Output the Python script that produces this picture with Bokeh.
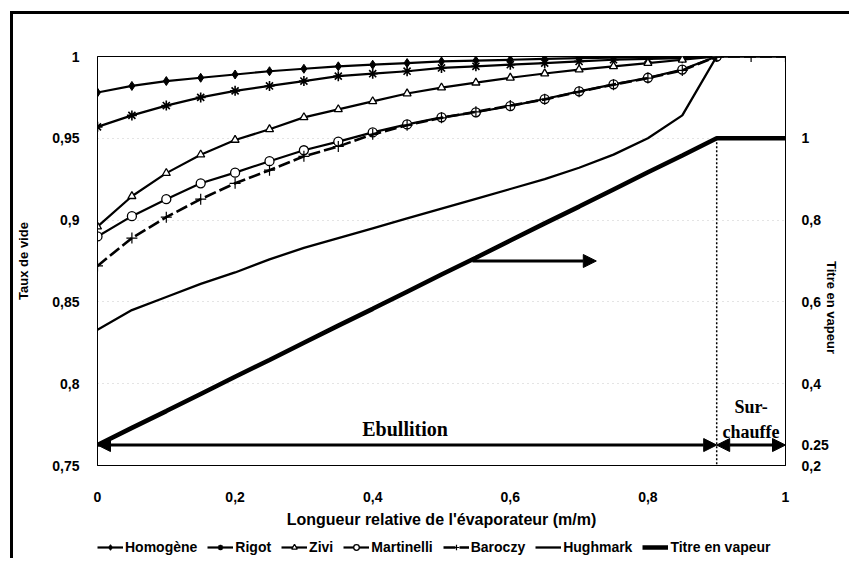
import math
from bokeh.plotting import figure
from bokeh.layouts import column
from bokeh.models import (Range1d, LinearAxis, FixedTicker, Legend, LegendItem,
                          Arrow, NormalHead, Label)
from bokeh.embed import file_html
from bokeh.resources import INLINE

# ---------------- data ----------------
x_pts = [0.0, 0.05, 0.1, 0.15, 0.2, 0.25, 0.3, 0.35, 0.4, 0.45, 0.5,
         0.55, 0.6, 0.65, 0.7, 0.75, 0.8, 0.85, 0.9]
x_full = x_pts + [0.95, 1.0]

homogene = [0.978, 0.982, 0.985, 0.987, 0.989, 0.991, 0.9925, 0.994, 0.995, 0.996,
            0.997, 0.9975, 0.998, 0.9985, 0.999, 0.9993, 0.9996, 0.9998, 1.0]
rigot = [0.957, 0.964, 0.970, 0.975, 0.979, 0.982, 0.985, 0.988, 0.9895, 0.991,
         0.993, 0.994, 0.995, 0.996, 0.997, 0.998, 0.9985, 0.999, 1.0]
zivi = [0.896, 0.9146, 0.9287, 0.940, 0.949, 0.9555, 0.9628, 0.9677, 0.9726, 0.9774,
        0.981, 0.984, 0.987, 0.9896, 0.992, 0.994, 0.996, 0.998, 1.0]
martinelli = [0.890, 0.9024, 0.9128, 0.9225, 0.929, 0.936, 0.9427, 0.948, 0.9536, 0.9585,
              0.9628, 0.9659, 0.9697, 0.974, 0.9787, 0.983, 0.987, 0.992, 1.0]
baroczy = [0.872, 0.889, 0.9018, 0.9128, 0.9225, 0.9305, 0.939, 0.945, 0.9524, 0.958,
           0.9625, 0.9662, 0.970, 0.9738, 0.9785, 0.9828, 0.9868, 0.9915, 1.0, 1.0, 1.0]
hughmark = [0.833, 0.845, 0.853, 0.861, 0.868, 0.876, 0.883, 0.889, 0.895, 0.901,
            0.907, 0.913, 0.919, 0.925, 0.932, 0.940, 0.950, 0.964, 1.0, 1.0, 1.0]
titre = [0.25, 0.292, 0.333, 0.375, 0.417, 0.458, 0.5, 0.542, 0.583, 0.625,
         0.667, 0.708, 0.75, 0.792, 0.833, 0.875, 0.917, 0.958, 1.0, 1.0, 1.0]

left_ticks = [0.75, 0.8, 0.85, 0.9, 0.95, 1.0]
left_labels = ["0,75", "0,8", "0,85", "0,9", "0,95", "1"]
right_ticks = [0.2, 0.25, 0.4, 0.6, 0.8, 1.0]
right_labels = ["0,2", "0.25", "0,4", "0,6", "0,8", "1"]
x_ticks = [0.0, 0.2, 0.4, 0.6, 0.8, 1.0]
x_labels = ["0", "0,2", "0,4", "0,6", "0,8", "1"]

boiling_end = 0.9          # end of the boiling zone (m/m)
zone_level = 0.25          # vapour quality level where zone arrows are drawn
quality_arrow = [0.545, 0.725, 0.7]   # x start, x end, level (right axis)

FONT = "Liberation Sans"

# ---------------- main figure ----------------
p = figure(width=836, height=520, x_range=Range1d(0, 1), y_range=Range1d(0.75, 1.0),
           output_backend="svg", toolbar_location=None,
           min_border_left=83, min_border_right=62, min_border_top=42, min_border_bottom=69)
p.background_fill_color = "white"
p.border_fill_color = "white"
p.outline_line_color = "black"
p.outline_line_width = 1
p.extra_y_ranges = {"titre": Range1d(0.2, 1.2)}

p.xgrid.grid_line_color = None
p.ygrid.ticker = FixedTicker(ticks=left_ticks[1:-1])
p.ygrid.grid_line_color = "#c8c8c8"
p.ygrid.grid_line_dash = "1 4"
p.ygrid.grid_line_width = 1


def style_axis(ax):
    ax.major_tick_line_color = None
    ax.minor_tick_line_color = None
    ax.axis_line_color = "black"
    ax.axis_line_width = 1
    ax.major_label_text_font = FONT
    ax.major_label_text_font_style = "bold"
    ax.major_label_text_font_size = "14px"
    ax.major_label_text_color = "black"
    ax.axis_label_text_font = FONT
    ax.axis_label_text_font_style = "bold"
    ax.axis_label_text_font_size = "13px"
    ax.axis_label_text_color = "black"


xa = p.xaxis[0]
xa.ticker = FixedTicker(ticks=x_ticks)
xa.major_label_overrides = dict(zip(x_ticks, x_labels))
xa.axis_label = "Longueur relative de l'évaporateur (m/m)"
style_axis(xa)
xa.axis_label_text_font_size = "16px"
xa.major_label_standoff = 20
xa.axis_label_standoff = 6

ya = p.yaxis[0]
ya.ticker = FixedTicker(ticks=left_ticks)
ya.major_label_overrides = dict(zip(left_ticks, left_labels))
ya.axis_label = "Taux de vide"
style_axis(ya)
ya.major_label_standoff = 12
ya.axis_label_standoff = 18

ra = LinearAxis(y_range_name="titre", axis_label="Titre en vapeur")
ra.ticker = FixedTicker(ticks=right_ticks)
ra.major_label_overrides = dict(zip(right_ticks, right_labels))
style_axis(ra)
ra.major_label_standoff = 10
ra.axis_label_standoff = 0
if "axis_label_orientation" in ra.properties():
    ra.axis_label_orientation = -math.pi / 2
p.add_layout(ra, "right")

# ---------------- series ----------------
lw = 2.2
STY = {
    "Homogène": dict(line=dict(line_width=lw), marker=dict(marker="diamond", size=9, fill_color="black", line_color="black")),
    "Rigot": dict(line=dict(line_width=lw), marker=dict(marker="asterisk", size=10, line_color="black", line_width=1.6)),
    "Zivi": dict(line=dict(line_width=lw), marker=dict(marker="triangle", size=8, fill_color="white", line_color="black", line_width=1.3)),
    "Martinelli": dict(line=dict(line_width=lw), marker=dict(marker="circle", size=9, fill_color="white", line_color="black", line_width=1.3)),
    "Baroczy": dict(line=dict(line_width=2.6, line_dash="12 4"), marker=dict(marker="cross", size=11, line_color="black", line_width=1.2)),
    "Hughmark": dict(line=dict(line_width=2.3), marker=None),
}

series = [("Homogène", x_pts, homogene), ("Rigot", x_pts, rigot), ("Zivi", x_pts, zivi),
          ("Martinelli", x_pts, martinelli), ("Baroczy", x_full, baroczy),
          ("Hughmark", x_full, hughmark)]

for name, xs, ys in series:
    st = STY[name]
    p.line(xs, ys, line_color="black", **st["line"])
    if st["marker"] is not None:
        p.scatter(xs, ys, **st["marker"])
p.line(x_full, titre, line_color="black", line_width=4.5, y_range_name="titre")

# boiling limit (dotted vertical)
p.segment(x0=[boiling_end], y0=[1.0], x1=[boiling_end], y1=[0.2], y_range_name="titre",
          line_color="black", line_width=1.5, line_dash="2 2")


def head():
    return NormalHead(size=13, fill_color="black", line_color="black")


p.add_layout(Arrow(x_start=0.0, y_start=zone_level, x_end=boiling_end, y_end=zone_level,
                   y_range_name="titre", line_width=3, line_color="black",
                   start=head(), end=head()))
p.add_layout(Arrow(x_start=boiling_end, y_start=zone_level, x_end=1.0, y_end=zone_level,
                   y_range_name="titre", line_width=3, line_color="black",
                   start=head(), end=head()))
p.add_layout(Arrow(x_start=quality_arrow[0], y_start=quality_arrow[2],
                   x_end=quality_arrow[1], y_end=quality_arrow[2],
                   y_range_name="titre", line_width=3, line_color="black", end=head()))

p.add_layout(Label(x=0.447, y=zone_level, y_range_name="titre", y_offset=16, text="Ebullition",
                   text_font="Liberation Serif", text_font_style="bold", text_font_size="20px",
                   text_align="center", text_baseline="middle", text_color="black"))
p.add_layout(Label(x=(boiling_end + 1.0) / 2, y=zone_level, y_range_name="titre", y_offset=38,
                   text="Sur-", text_font="Liberation Serif", text_font_style="bold",
                   text_font_size="18px", text_align="center", text_baseline="middle",
                   text_color="black"))
p.add_layout(Label(x=(boiling_end + 1.0) / 2, y=zone_level, y_range_name="titre", y_offset=13,
                   text="chauffe", text_font="Liberation Serif", text_font_style="bold",
                   text_font_size="18px", text_align="center", text_baseline="middle",
                   text_color="black"))

# ---------------- legend strip ----------------
# proxy renderers carry the same data, but the strip's ranges keep them out of view
lf = figure(width=836, height=24, x_range=Range1d(5, 6), y_range=Range1d(5, 6),
            output_backend="svg", toolbar_location=None, x_axis_type=None, y_axis_type=None,
            min_border=0, min_border_left=0, min_border_right=0, min_border_top=0,
            min_border_bottom=0)
lf.outline_line_color = None
lf.grid.grid_line_color = None
lf.background_fill_color = "white"
lf.border_fill_color = "white"

items = []
for name, xs, ys in series:
    st = STY[name]
    rs = [lf.line(xs, ys, line_color="black", **st["line"])]
    if st["marker"] is not None:
        rs.append(lf.scatter(xs, ys, **st["marker"]))
    items.append(LegendItem(label=name, renderers=rs))
items.append(LegendItem(label="Titre en vapeur",
                        renderers=[lf.line(x_full, titre, line_color="black", line_width=4.5)]))

legend = Legend(items=items, orientation="horizontal", location=(0, 3))
legend.label_text_font = FONT
legend.label_text_font_style = "bold"
legend.label_text_font_size = "14px"
legend.label_text_color = "black"
legend.glyph_width = 26
legend.glyph_height = 14
legend.label_standoff = 2
legend.spacing = 10
legend.padding = 0
legend.margin = 0
legend.border_line_color = None
legend.background_fill_alpha = 0
lf.add_layout(legend)

root = column(p, lf, spacing=0)
root.margin = (11, 0, 0, 10)
root.styles = {"border-top": "3px solid black", "border-left": "3px solid black"}

open("out.html", "w").write(file_html(root, INLINE))
